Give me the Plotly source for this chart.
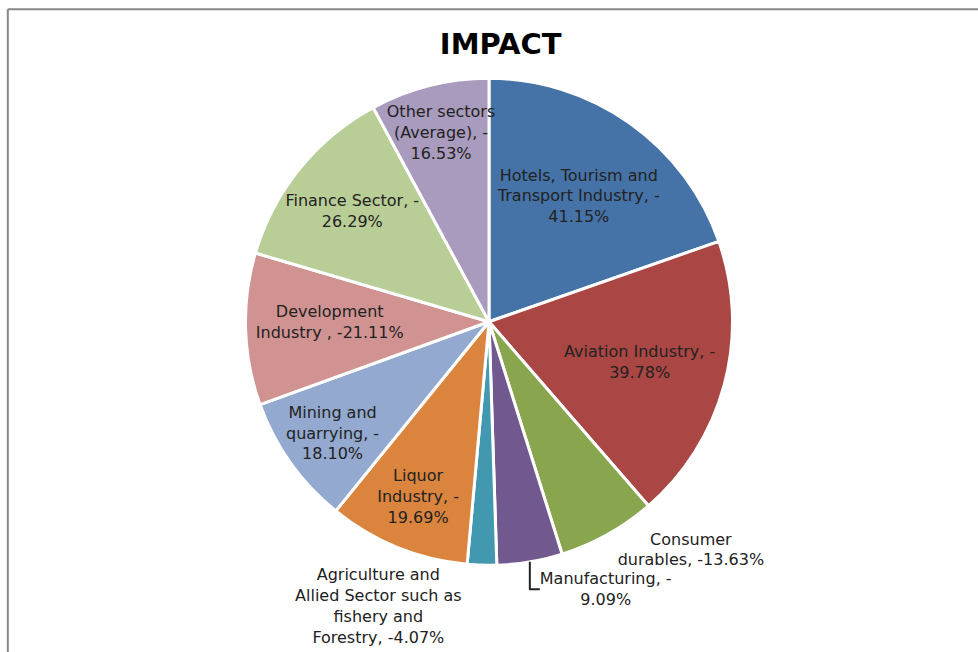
import plotly.graph_objects as go

sectors = [
    "Hotels, Tourism and<br>Transport Industry, -",
    "Aviation Industry, -",
    "Consumer<br>durables,",
    "Manufacturing, -",
    "Agriculture and<br>Allied Sector such as<br>fishery and<br>Forestry,",
    "Liquor<br>Industry, -",
    "Mining and<br>quarrying, -",
    "Development<br>Industry ,",
    "Finance Sector, -",
    "Other sectors<br>(Average), -",
]
impact_pct = [41.15, 39.78, 13.63, 9.09, 4.07, 19.69, 18.10, 21.11, 26.29, 16.53]
value_text = ["41.15%", "39.78%", "-13.63%", "9.09%", "-4.07%",
              "19.69%", "18.10%", "-21.11%", "26.29%", "16.53%"]
label_sep = ["<br>", "<br>", " ", "<br>", " ", "<br>", "<br>", " ", "<br>", "<br>"]
colors = ["#4572A7", "#AA4643", "#89A54E", "#71588F", "#4198AF",
          "#DB843D", "#93A9CF", "#D19392", "#B9CD96", "#A99BBD"]
positions = ["inside", "inside", "outside", "outside", "outside",
             "inside", "inside", "inside", "inside", "inside"]

texts = [s + sep + v for s, sep, v in zip(sectors, label_sep, value_text)]

FONT = "DejaVu Sans, Open Sans, sans-serif"

fig = go.Figure(go.Pie(
    values=impact_pct,
    text=texts,
    textinfo="text",
    textposition=positions,
    insidetextorientation="horizontal",
    sort=False,
    direction="clockwise",
    rotation=0,
    automargin=False,
    marker=dict(colors=colors, line=dict(color="white", width=3)),
    textfont=dict(family=FONT, size=16, color="#222222"),
    domain=dict(x=[0, 1], y=[0.133, 0.880]),
    showlegend=False,
    hoverinfo="skip",
))

fig.update_layout(
    width=978, height=652,
    margin=dict(l=0, r=0, t=0, b=0, autoexpand=False),
    paper_bgcolor="white",
    title=dict(text="<b>IMPACT</b>", x=0.512, xanchor="center", y=0.932, yanchor="middle",
               font=dict(family=FONT, size=29, color="black")),
    uniformtext=dict(minsize=16, mode="show"),
    shapes=[
        dict(type="line", xref="paper", yref="paper", x0=0.008, x1=1.0, y0=0.986, y1=0.986,
             line=dict(color="#888888", width=2)),
        dict(type="line", xref="paper", yref="paper", x0=0.008, x1=0.008, y0=0.986, y1=0.0,
             line=dict(color="#888888", width=2)),
    ],
)

fig.write_html("out.html")
